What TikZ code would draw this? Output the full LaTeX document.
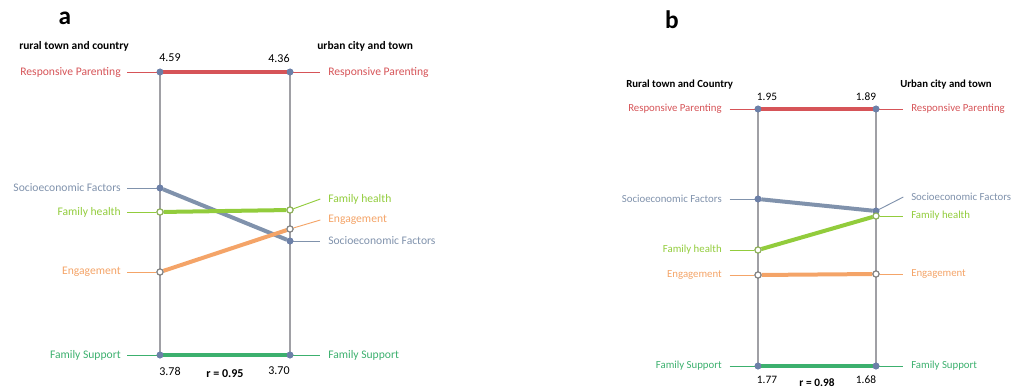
\documentclass[tikz,border=0pt]{standalone}
\usepackage{fontspec}
\setmainfont{Carlito}
\definecolor{parentred}{RGB}{214,84,88}
\definecolor{socioblue}{RGB}{128,146,172}
\definecolor{healthgreen}{RGB}{146,204,60}
\definecolor{engorange}{RGB}{244,164,104}
\definecolor{supportgreen}{RGB}{60,176,110}
\definecolor{axisgrey}{RGB}{160,160,165}
\definecolor{markblue}{RGB}{108,128,168}
\tikzset{
  axisline/.style={draw=axisgrey, line width=1.3pt},
  trend/.style={line width=3pt},
  lead/.style={line width=0.7pt},
  dot/.style={circle, inner sep=0pt, minimum size=4.6pt, fill=markblue, draw=markblue},
  ring/.style={circle, inner sep=0pt, minimum size=4.6pt, fill=white, draw=gray, line width=0.8pt},
  labA/.style={inner sep=0.75pt, font=\fontsize{8.7}{10}\selectfont},
  labB/.style={inner sep=0.75pt, font=\fontsize{8.1}{10}\selectfont},
  head/.style={inner sep=0.75pt, font=\fontsize{8.6}{10}\selectfont\bfseries},
  val/.style={inner sep=0.75pt, font=\fontsize{9}{10}\selectfont},
  panel/.style={inner sep=0pt, font=\fontsize{19}{20}\selectfont\bfseries}
}
\begin{document}
\begin{tikzpicture}[x=0.75pt,y=0.75pt,yscale=-1,xscale=1]
\useasboundingbox (0,0) rectangle (1012,389);
% panel a
\node [panel] (tagA) at (65,18) {a};
\node [head, anchor=west] (ruralA) at (18,46) {rural town and country};
\node [head, anchor=west] (urbanA) at (316,46) {urban city and town};
\coordinate (aLtop) at (160,72);
\coordinate (aLbot) at (160,355);
\coordinate (aRtop) at (290,72);
\coordinate (aRbot) at (290,355);
\draw [axisline] (aLtop) -- (aLbot);
\draw [axisline] (aRtop) -- (aRbot);
\node [dot] (aLrp) at (160,72) {};
\node [dot] (aRrp) at (290,72) {};
\node [dot] (aLse) at (160,188) {};
\node [dot] (aRse) at (290,241) {};
\node [ring, draw=healthgreen!60!gray] (aLfh) at (160,212) {};
\node [ring, draw=healthgreen!60!gray] (aRfh) at (290,210) {};
\node [ring] (aLen) at (160,272) {};
\node [ring] (aRen) at (290,229) {};
\node [dot] (aLfs) at (160,355) {};
\node [dot] (aRfs) at (290,355) {};
% labels a
\node [labA, anchor=east, text=parentred] (aLrpT) at (122,72) {Responsive Parenting};
\node [labA, anchor=east, text=socioblue] (aLseT) at (122,188) {Socioeconomic Factors};
\node [labA, anchor=east, text=healthgreen] (aLfhT) at (122,212) {Family health};
\node [labA, anchor=east, text=engorange] (aLenT) at (122,272) {Engagement};
\node [labA, anchor=east, text=supportgreen] (aLfsT) at (122,355) {Family Support};
\node [labA, anchor=west, text=parentred] (aRrpT) at (327,72) {Responsive Parenting};
\node [labA, anchor=west, text=healthgreen] (aRfhT) at (327,199) {Family health};
\node [labA, anchor=west, text=engorange] (aRenT) at (327,220) {Engagement};
\node [labA, anchor=west, text=socioblue] (aRseT) at (327,241) {Socioeconomic Factors};
\node [labA, anchor=west, text=supportgreen] (aRfsT) at (327,355) {Family Support};
\draw [lead, parentred] (aLrpT.east) ++(5,0) coordinate (aLrpE) (aLrpE) -- (aLrp);
\draw [lead, socioblue] (aLseT.east) ++(5,0) coordinate (aLseE) (aLseE) -- (aLse);
\draw [lead, healthgreen] (aLfhT.east) ++(5,0) coordinate (aLfhE) (aLfhE) -- (aLfh);
\draw [lead, engorange] (aLenT.east) ++(5,0) coordinate (aLenE) (aLenE) -- (aLen);
\draw [lead, supportgreen] (aLfsT.east) ++(5,0) coordinate (aLfsE) (aLfsE) -- (aLfs);
\draw [lead, parentred] (aRrp) -- ([xshift=-5]aRrpT.west);
\draw [lead, healthgreen] (aRfh) -- ([xshift=-5]aRfhT.west);
\draw [lead, engorange] (aRen) -- ([xshift=-5]aRenT.west);
\draw [lead, socioblue] (aRse) -- ([xshift=-5]aRseT.west);
\draw [lead, supportgreen] (aRfs) -- ([xshift=-5]aRfsT.west);
\draw [trend, parentred] (aLrp) -- (aRrp);
\draw [trend, socioblue] (aLse) -- (aRse);
\draw [trend, healthgreen] (aLfh) -- (aRfh);
\draw [trend, engorange] (aLen) -- (aRen);
\draw [trend, supportgreen] (aLfs) -- (aRfs);
\node [dot] at (aLrp) {};
\node [dot] at (aRrp) {};
\node [dot] at (aLse) {};
\node [dot] at (aRse) {};
\node [ring, draw=healthgreen!60!gray] at (aLfh) {};
\node [ring, draw=healthgreen!60!gray] at (aRfh) {};
\node [ring] at (aLen) {};
\node [ring] at (aRen) {};
\node [dot] at (aLfs) {};
\node [dot] at (aRfs) {};
\node [val] (aLtopV) at (170,58) {4.59};
\node [val] (aRtopV) at (279,58) {4.36};
\node [val] (aLbotV) at (170,371) {3.78};
\node [val] (aRbotV) at (279,371) {3.70};
\node [val, font=\fontsize{9}{10}\selectfont\bfseries] (aCorr) at (225,374) {r = 0.95};
% panel b
\node [panel] (tagB) at (672,20) {b};
\node [head, font=\fontsize{8.1}{10}\selectfont\bfseries, anchor=west] (ruralB) at (625,85) {Rural town and Country};
\node [head, font=\fontsize{8.1}{10}\selectfont\bfseries, anchor=west] (urbanB) at (899,85) {Urban city and town};
\coordinate (bLtop) at (758,109);
\coordinate (bLbot) at (758,366);
\coordinate (bRtop) at (876,109);
\coordinate (bRbot) at (876,366);
\draw [axisline] (bLtop) -- (bLbot);
\draw [axisline] (bRtop) -- (bRbot);
\node [dot] (bLrp) at (758,109) {};
\node [dot] (bRrp) at (876,109) {};
\node [dot] (bLse) at (758,199) {};
\node [dot] (bRse) at (876,211) {};
\node [ring, draw=healthgreen!60!gray] (bLfh) at (758,250) {};
\node [ring, draw=healthgreen!60!gray] (bRfh) at (876,216) {};
\node [ring] (bLen) at (758,275) {};
\node [ring] (bRen) at (876,274) {};
\node [dot] (bLfs) at (758,366) {};
\node [dot] (bRfs) at (876,366) {};
% labels b
\node [labB, anchor=east, text=parentred] (bLrpT) at (723,109) {Responsive Parenting};
\node [labB, anchor=east, text=socioblue] (bLseT) at (723,199) {Socioeconomic Factors};
\node [labB, anchor=east, text=healthgreen] (bLfhT) at (723,250) {Family health};
\node [labB, anchor=east, text=engorange] (bLenT) at (723,275) {Engagement};
\node [labB, anchor=east, text=supportgreen] (bLfsT) at (723,366) {Family Support};
\node [labB, anchor=west, text=parentred] (bRrpT) at (910,109) {Responsive Parenting};
\node [labB, anchor=west, text=socioblue] (bRseT) at (910,197) {Socioeconomic Factors};
\node [labB, anchor=west, text=healthgreen] (bRfhT) at (910,216) {Family health};
\node [labB, anchor=west, text=engorange] (bRenT) at (910,274) {Engagement};
\node [labB, anchor=west, text=supportgreen] (bRfsT) at (910,366) {Family Support};
\draw [lead, parentred] ([xshift=5]bLrpT.east) -- (bLrp);
\draw [lead, socioblue] ([xshift=5]bLseT.east) -- (bLse);
\draw [lead, healthgreen] ([xshift=5]bLfhT.east) -- (bLfh);
\draw [lead, engorange] ([xshift=5]bLenT.east) -- (bLen);
\draw [lead, supportgreen] ([xshift=5]bLfsT.east) -- (bLfs);
\draw [lead, parentred] (bRrp) -- ([xshift=-5]bRrpT.west);
\draw [lead, socioblue] (bRse) -- ([xshift=-5]bRseT.west);
\draw [lead, healthgreen] (bRfh) -- ([xshift=-5]bRfhT.west);
\draw [lead, engorange] (bRen) -- ([xshift=-5]bRenT.west);
\draw [lead, supportgreen] (bRfs) -- ([xshift=-5]bRfsT.west);
\draw [trend, parentred] (bLrp) -- (bRrp);
\draw [trend, socioblue] (bLse) -- (bRse);
\draw [trend, healthgreen] (bLfh) -- (bRfh);
\draw [trend, engorange] (bLen) -- (bRen);
\draw [trend, supportgreen] (bLfs) -- (bRfs);
\node [dot] at (bLrp) {};
\node [dot] at (bRrp) {};
\node [dot] at (bLse) {};
\node [dot] at (bRse) {};
\node [ring, draw=healthgreen!60!gray] at (bLfh) {};
\node [ring, draw=healthgreen!60!gray] at (bRfh) {};
\node [ring] at (bLen) {};
\node [ring] at (bRen) {};
\node [dot] at (bLfs) {};
\node [dot] at (bRfs) {};
\node [val, font=\fontsize{8.5}{10}\selectfont] (bLtopV) at (767,97) {1.95};
\node [val, font=\fontsize{8.5}{10}\selectfont] (bRtopV) at (866,97) {1.89};
\node [val, font=\fontsize{8.5}{10}\selectfont] (bLbotV) at (767,380) {1.77};
\node [val, font=\fontsize{8.5}{10}\selectfont] (bRbotV) at (866,380) {1.68};
\node [val, font=\fontsize{8.5}{10}\selectfont\bfseries] (bCorr) at (817,383) {r = 0.98};
\end{tikzpicture}
\end{document}
